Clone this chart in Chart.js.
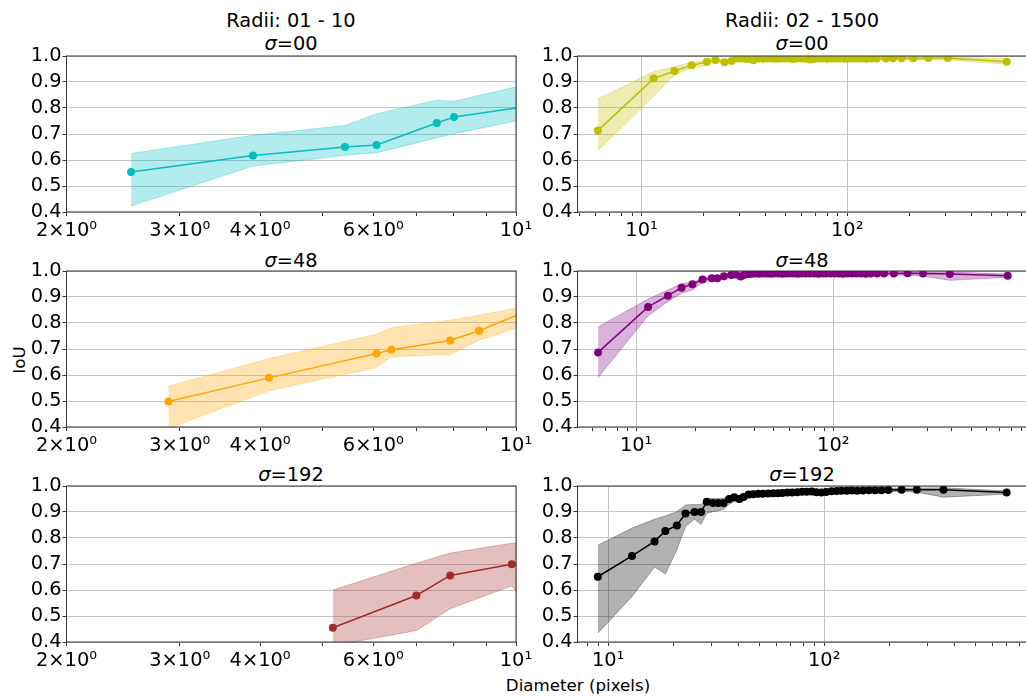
<!DOCTYPE html>
<html>
<head>
<meta charset="utf-8">
<script src="https://cdn.jsdelivr.net/npm/chart.js@4.4.1/dist/chart.umd.min.js"></script>
<style>
html, body { margin: 0; padding: 0; overflow: hidden; background: #fff; }
body { width: 1026px; height: 697px; position: relative; font-family: 'DejaVu Sans', sans-serif; }
.panel { position: absolute; }
.txt { position: absolute; transform: translate(-50%, -50%); white-space: nowrap; color: #000; font-size: 19.4px; }
.lab { font-size: 16.7px; }
</style>
</head>
<body>
<div class="txt" style="left:291px;top:19.5px">Radii: 01 - 10</div>
<div class="txt" style="left:291px;top:43px"><i>σ</i>=00</div>
<div class="txt" style="left:802px;top:19.5px">Radii: 02 - 1500</div>
<div class="txt" style="left:802px;top:43px"><i>σ</i>=00</div>
<div class="txt" style="left:291px;top:259.5px"><i>σ</i>=48</div>
<div class="txt" style="left:802px;top:259.5px"><i>σ</i>=48</div>
<div class="txt" style="left:291px;top:474px"><i>σ</i>=192</div>
<div class="txt" style="left:802px;top:474px"><i>σ</i>=192</div>
<div class="txt lab" style="left:18.5px;top:360px;transform:translate(-50%,-50%) rotate(-90deg)">IoU</div>
<div class="txt lab" style="left:578px;top:685px">Diameter (pixels)</div>

<canvas class="panel" id="c1" width="540" height="204" style="left:0;top:42px"></canvas>
<canvas class="panel" id="c2" width="520" height="204" style="left:511px;top:42px"></canvas>
<canvas class="panel" id="c3" width="540" height="204" style="left:0;top:257px"></canvas>
<canvas class="panel" id="c4" width="520" height="204" style="left:511px;top:257px"></canvas>
<canvas class="panel" id="c5" width="540" height="204" style="left:0;top:472px"></canvas>
<canvas class="panel" id="c6" width="520" height="204" style="left:511px;top:472px"></canvas>

<script>
// axis ticks
const yTicks = [0.4, 0.5, 0.6, 0.7, 0.8, 0.9, 1.0];
const leftTicks = [2, 3, 4, 5, 6, 7, 8, 9, 10];
const leftTickLabels = ['2×10⁰', '3×10⁰', '4×10⁰', '', '6×10⁰', '', '', '', '10¹'];
const rightTicks = [5, 6, 7, 8, 9, 10, 20, 30, 40, 50, 60, 70, 80, 90, 100, 200, 300, 400, 500, 600, 700, 800, 900];
const rightTickLabels = ['', '', '', '', '', '10¹', '', '', '', '', '', '', '', '', '10²', '', '', '', '', '', '', '', ''];
const majorTicks = [10, 100];

// Radii 01 - 10, sigma 00
const dA0 = [2.52, 3.90, 5.42, 6.07, 7.53, 8.01, 10.6];
const iouA0 = [0.554, 0.617, 0.650, 0.658, 0.742, 0.765, 0.809];
const hiA0 = [0.625, 0.695, 0.733, 0.778, 0.830, 0.826, 0.896];
const loA0 = [0.423, 0.577, 0.618, 0.628, 0.685, 0.701, 0.763];

// Radii 01 - 10, sigma 48
const dA48 = [2.88, 4.13, 6.07, 6.40, 7.90, 8.76, 10.6];
const iouA48 = [0.498, 0.589, 0.683, 0.697, 0.733, 0.770, 0.855];
const hiA48 = [0.557, 0.663, 0.757, 0.782, 0.811, 0.830, 0.869];
const loA48 = [0.395, 0.539, 0.629, 0.670, 0.679, 0.734, 0.799];

// Radii 01 - 10, sigma 192
const dA192 = [5.19, 7.00, 7.90, 9.85, 11.0];
const iouA192 = [0.455, 0.579, 0.656, 0.699, 0.700];
const hiA192 = [0.600, 0.703, 0.742, 0.780, 0.785];
const loA192 = [0.386, 0.444, 0.528, 0.616, 0.460];

// Radii 02 - 1500, sigma 00
const dB0 = [6.13, 11.44, 14.47, 17.5, 20.8, 22.9, 25.3, 27.4, 29, 30.5, 32, 33.5, 35, 37, 39, 41, 43, 45, 47, 49.5, 52, 54.5, 57, 60, 63, 66, 69, 72.5, 76, 80, 84, 88, 92, 97, 102, 107, 112, 118, 124, 131, 139, 154, 167, 184, 209, 248, 308, 596];
const iouB0 = [0.713, 0.913, 0.942, 0.964, 0.978, 0.985, 0.976, 0.981, 0.99, 0.99, 0.989, 0.988, 0.984, 0.99, 0.989, 0.99, 0.99, 0.989, 0.99, 0.99, 0.99, 0.988, 0.99, 0.99, 0.989, 0.987, 0.989, 0.99, 0.99, 0.989, 0.99, 0.99, 0.99, 0.989, 0.99, 0.99, 0.99, 0.99, 0.989, 0.99, 0.99, 0.99, 0.991, 0.991, 0.991, 0.992, 0.992, 0.978];
const hiB0 = [0.835, 0.940, 0.959, 0.976, 0.986, 0.991, 0.985, 0.989, 0.995, 0.995, 0.994, 0.994, 0.991, 0.995, 0.994, 0.995, 0.995, 0.994, 0.995, 0.995, 0.995, 0.994, 0.995, 0.995, 0.994, 0.993, 0.994, 0.995, 0.995, 0.994, 0.995, 0.995, 0.995, 0.994, 0.995, 0.995, 0.995, 0.995, 0.994, 0.995, 0.995, 0.995, 0.996, 0.996, 0.996, 0.997, 0.997, 0.990];
const loB0 = [0.635, 0.845, 0.927, 0.955, 0.963, 0.976, 0.967, 0.972, 0.984, 0.984, 0.983, 0.982, 0.977, 0.984, 0.983, 0.984, 0.984, 0.983, 0.984, 0.984, 0.984, 0.982, 0.984, 0.984, 0.983, 0.981, 0.983, 0.984, 0.984, 0.983, 0.984, 0.984, 0.984, 0.983, 0.984, 0.984, 0.984, 0.984, 0.983, 0.984, 0.984, 0.984, 0.985, 0.985, 0.985, 0.986, 0.985, 0.968];

// Radii 02 - 1500, sigma 48
const dB48 = [6.41, 11.5, 14.5, 17.0, 19.3, 21.7, 24.2, 25.8, 27.9, 30.4, 32, 33.9, 35.2, 37, 38.5, 40, 42, 44, 46, 48, 50, 52.5, 55, 57.5, 60, 63, 66, 69, 72.5, 76, 80, 84, 88, 92, 97, 102, 107, 112, 118, 124, 131, 138, 146, 155, 167, 181, 203, 238, 285, 390, 767];
const iouB48 = [0.687, 0.862, 0.905, 0.936, 0.949, 0.967, 0.972, 0.972, 0.980, 0.985, 0.987, 0.979, 0.985, 0.988, 0.989, 0.99, 0.989, 0.99, 0.99, 0.989, 0.99, 0.99, 0.989, 0.99, 0.99, 0.99, 0.989, 0.99, 0.99, 0.99, 0.99, 0.989, 0.99, 0.99, 0.99, 0.99, 0.99, 0.989, 0.99, 0.99, 0.99, 0.99, 0.989, 0.99, 0.99, 0.99, 0.99, 0.991, 0.99, 0.988, 0.982];
const hiB48 = [0.785, 0.892, 0.927, 0.952, 0.956, 0.972, 0.978, 0.980, 0.986, 0.990, 0.992, 0.986, 0.991, 0.993, 0.994, 0.995, 0.994, 0.995, 0.995, 0.994, 0.995, 0.995, 0.994, 0.995, 0.995, 0.995, 0.994, 0.995, 0.995, 0.995, 0.995, 0.994, 0.995, 0.995, 0.995, 0.995, 0.995, 0.994, 0.995, 0.995, 0.995, 0.995, 0.994, 0.995, 0.995, 0.995, 0.995, 0.996, 0.995, 0.996, 0.988];
const loB48 = [0.590, 0.828, 0.883, 0.914, 0.927, 0.956, 0.964, 0.965, 0.974, 0.980, 0.982, 0.972, 0.979, 0.983, 0.984, 0.985, 0.984, 0.985, 0.985, 0.984, 0.985, 0.985, 0.984, 0.985, 0.985, 0.985, 0.984, 0.985, 0.985, 0.985, 0.985, 0.984, 0.985, 0.985, 0.985, 0.985, 0.985, 0.984, 0.985, 0.985, 0.985, 0.985, 0.984, 0.985, 0.985, 0.985, 0.984, 0.984, 0.981, 0.964, 0.976];

// Radii 02 - 1500, sigma 192
const dB192 = [8.96, 12.9, 16.4, 18.4, 20.8, 22.8, 25.1, 26.9, 28.6, 30.5, 32.3, 34.2, 36.3, 38.3, 40.5, 42.3, 44.7, 47, 49.5, 52, 55, 58, 61, 64, 67.5, 71, 75, 79, 83, 87.5, 92, 97, 102, 108, 114, 120, 127, 134, 142, 151, 161, 172, 184, 198, 228, 268, 356, 698];
const iouB192 = [0.651, 0.731, 0.787, 0.827, 0.848, 0.894, 0.900, 0.900, 0.939, 0.935, 0.935, 0.935, 0.950, 0.957, 0.950, 0.958, 0.967, 0.968, 0.970, 0.970, 0.971, 0.972, 0.972, 0.973, 0.975, 0.975, 0.976, 0.978, 0.978, 0.979, 0.976, 0.975, 0.977, 0.980, 0.981, 0.982, 0.982, 0.983, 0.982, 0.983, 0.984, 0.984, 0.984, 0.985, 0.986, 0.986, 0.986, 0.975];
const hiB192 = [0.772, 0.838, 0.872, 0.885, 0.901, 0.927, 0.929, 0.929, 0.950, 0.952, 0.952, 0.953, 0.960, 0.965, 0.962, 0.968, 0.975, 0.976, 0.977, 0.977, 0.978, 0.979, 0.979, 0.980, 0.981, 0.981, 0.982, 0.984, 0.984, 0.985, 0.982, 0.981, 0.983, 0.986, 0.987, 0.988, 0.988, 0.989, 0.988, 0.989, 0.990, 0.990, 0.990, 0.991, 0.992, 0.992, 0.993, 0.981];
const loB192 = [0.434, 0.575, 0.688, 0.662, 0.755, 0.844, 0.872, 0.853, 0.895, 0.901, 0.905, 0.910, 0.930, 0.940, 0.938, 0.945, 0.956, 0.958, 0.961, 0.962, 0.963, 0.964, 0.965, 0.966, 0.968, 0.968, 0.969, 0.971, 0.971, 0.972, 0.969, 0.968, 0.970, 0.973, 0.974, 0.975, 0.975, 0.976, 0.975, 0.976, 0.977, 0.977, 0.977, 0.978, 0.979, 0.976, 0.957, 0.969];

Chart.defaults.font.family = "'DejaVu Sans', sans-serif";
Chart.defaults.color = '#000';

const frame = {
    id: 'frame',
    afterDraw(chart) {
        const { ctx, chartArea: a } = chart;
        ctx.save();
        ctx.strokeStyle = '#333';
        ctx.lineWidth = 1;
        ctx.strokeRect(a.left, a.top, a.right - a.left, a.bottom - a.top);
        ctx.restore();
    }
};

function hexToRgba(hex, alpha) {
    const n = parseInt(hex.slice(1), 16);
    return `rgba(${(n >> 16) & 255}, ${(n >> 8) & 255}, ${n & 255}, ${alpha})`;
}

function drawPanel(id, xs, mean, hi, lo, color, isLeft, xMin, xMax) {
    const pts = arr => xs.map((x, i) => ({ x: x, y: arr[i] }));
    const tickVals = isLeft ? leftTicks : rightTicks;
    const tickLabels = isLeft ? leftTickLabels : rightTickLabels;
    const band = hexToRgba(color, 0.3);
    new Chart(document.getElementById(id), {
        type: 'line',
        data: {
            datasets: [
                { data: pts(mean), borderColor: color, backgroundColor: color, borderWidth: 1.5,
                  pointRadius: 4, pointBorderWidth: 0, pointBackgroundColor: color, fill: false },
                { data: pts(lo), borderColor: band, borderWidth: 1, pointRadius: 0, fill: false },
                { data: pts(hi), borderColor: band, backgroundColor: band, borderWidth: 1, pointRadius: 0, fill: '-1' }
            ]
        },
        options: {
            responsive: false,
            animation: false,
            devicePixelRatio: 1,
            layout: { padding: { top: 14, right: isLeft ? 24 : 4, left: 0, bottom: 0 } },
            plugins: { legend: { display: false }, tooltip: { enabled: false } },
            scales: {
                x: {
                    type: 'logarithmic',
                    min: xMin,
                    max: xMax,
                    afterBuildTicks: scale => {
                        scale.ticks = tickVals.filter(v => v >= scale.min && v <= scale.max)
                            .map(v => ({ value: v, major: majorTicks.includes(v) }));
                    },
                    afterFit: scale => {
                        scale.height = 34;
                        scale.paddingLeft = 0;
                        scale.paddingRight = 0;
                    },
                    ticks: {
                        autoSkip: false, maxRotation: 0, padding: 3,
                        font: { size: 19.4 },
                        callback: v => tickLabels[tickVals.indexOf(v)] || ''
                    },
                    grid: {
                        color: ctx => (ctx.tick && ctx.tick.major) ? '#c4c4c4' : 'rgba(0,0,0,0)',
                        tickColor: '#333', tickLength: 4, lineWidth: 1
                    },
                    border: { display: false }
                },
                y: {
                    min: 0.4,
                    max: 1.0,
                    afterBuildTicks: scale => { scale.ticks = yTicks.map(v => ({ value: v })); },
                    afterFit: scale => {
                        scale.width = 66.5;
                        scale.paddingTop = 0;
                        scale.paddingBottom = 0;
                    },
                    ticks: { autoSkip: false, padding: 1, font: { size: 19.4 }, callback: v => v.toFixed(1) },
                    grid: { color: '#c4c4c4', tickColor: '#333', tickLength: 4 },
                    border: { display: false }
                }
            }
        },
        plugins: [frame]
    });
}

drawPanel('c1', dA0, iouA0, hiA0, loA0, '#00bfbf', true, 2, 10);
drawPanel('c2', dB0, iouB0, hiB0, loB0, '#bfbf00', false, 4.884, 748);
drawPanel('c3', dA48, iouA48, hiA48, loA48, '#ffa500', true, 2, 10);
drawPanel('c4', dB48, iouB48, hiB48, loB48, '#800080', false, 5.04, 961);
drawPanel('c5', dA192, iouA192, hiA192, loA192, '#a52a2a', true, 2, 10);
drawPanel('c6', dB192, iouB192, hiB192, loB192, '#000000', false, 7.216, 867);
</script>
</body>
</html>
